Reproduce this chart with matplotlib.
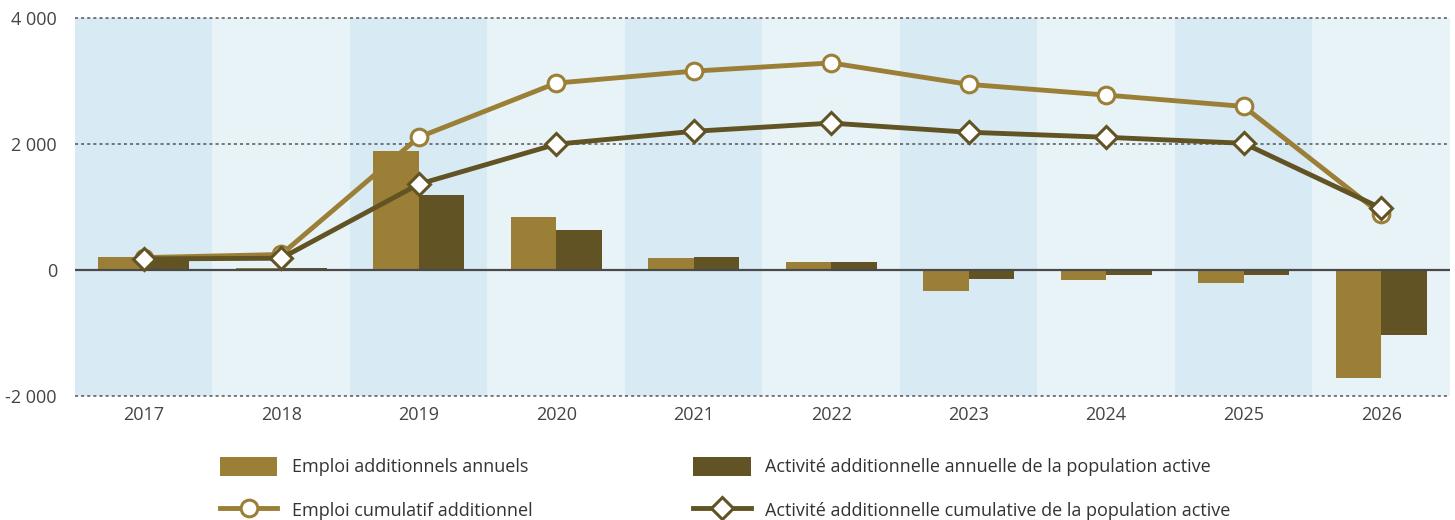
import matplotlib.pyplot as plt
import numpy as np

plt.rcParams['font.family'] = ['Open Sans', 'DejaVu Sans']

# Données
annees = ['2017', '2018', '2019', '2020', '2021', '2022', '2023', '2024', '2025', '2026']
emploi_annuel = [210, 40, 1890, 840, 190, 127, -330, -160, -200, -1710]
activite_annuelle = [180, 30, 1190, 635, 205, 127, -143, -80, -75, -1030]
emploi_cumul = [200, 250, 2110, 2970, 3160, 3290, 2950, 2780, 2600, 890]
activite_cumul = [180, 190, 1365, 2000, 2205, 2335, 2190, 2110, 2015, 985]

c_clair = '#9b7f36'
c_fonce = '#615323'

fig = plt.figure(figsize=(14.55, 5.2), dpi=100)
ax = fig.add_axes([0.0515, 0.238, 0.945, 0.727])

x = np.arange(len(annees))
largeur = 0.33

# Bandes de fond alternées
for i in x:
    ax.axvspan(i - 0.5, i + 0.5, color='#d8eaf3' if i % 2 == 0 else '#e8f3f8', zorder=0, lw=0)

ax.bar(x - largeur / 2, emploi_annuel, largeur, color=c_clair, zorder=2,
       label='Emploi additionnels annuels')
ax.bar(x + largeur / 2, activite_annuelle, largeur, color=c_fonce, zorder=2,
       label='Activité additionnelle annuelle de la population active')
ax.axhline(0, color='#4a4a4a', lw=1.6, zorder=3)

ax.plot(x, emploi_cumul, color=c_clair, lw=3.5, marker='o', ms=12, mfc='white',
        mec=c_clair, mew=2.2, zorder=4, label='Emploi cumulatif additionnel')
ax.plot(x, activite_cumul, color=c_fonce, lw=3.5, marker='D', ms=11.5, mfc='white',
        mec=c_fonce, mew=2.2, zorder=5,
        label='Activité additionnelle cumulative de la population active')

for v in [4000, 2000, -2000]:
    ax.axhline(v, color='#555555', lw=1.1, ls=(0, (2, 2)), zorder=1, clip_on=False)

ax.set_xlim(-0.5, len(annees) - 0.5)
ax.set_ylim(-2000, 4000)
ax.set_yticks([-2000, 0, 2000, 4000])
ax.set_yticklabels(['-2 000', '0', '2 000', '4 000'])
ax.set_xticks(x)
ax.set_xticklabels(annees)
ax.tick_params(length=0, labelsize=13, colors='#444444', pad=7)
ax.tick_params(axis='y', pad=13)
for s in ax.spines.values():
    s.set_visible(False)

h, l = ax.get_legend_handles_labels()
# ordre: barres puis lignes, remplissage par colonne
ordre = [2, 0, 3, 1]
fig.legend([h[i] for i in ordre], [l[i] for i in ordre], ncol=2, frameon=False,
           loc='upper left', bbox_to_anchor=(0.146, 0.135), borderaxespad=0,
           fontsize=13, handlelength=3.2, handleheight=1.2, handletextpad=0.8,
           labelspacing=1.35, columnspacing=8.9, labelcolor='#333333')

fig.savefig('out.png', dpi=100)
